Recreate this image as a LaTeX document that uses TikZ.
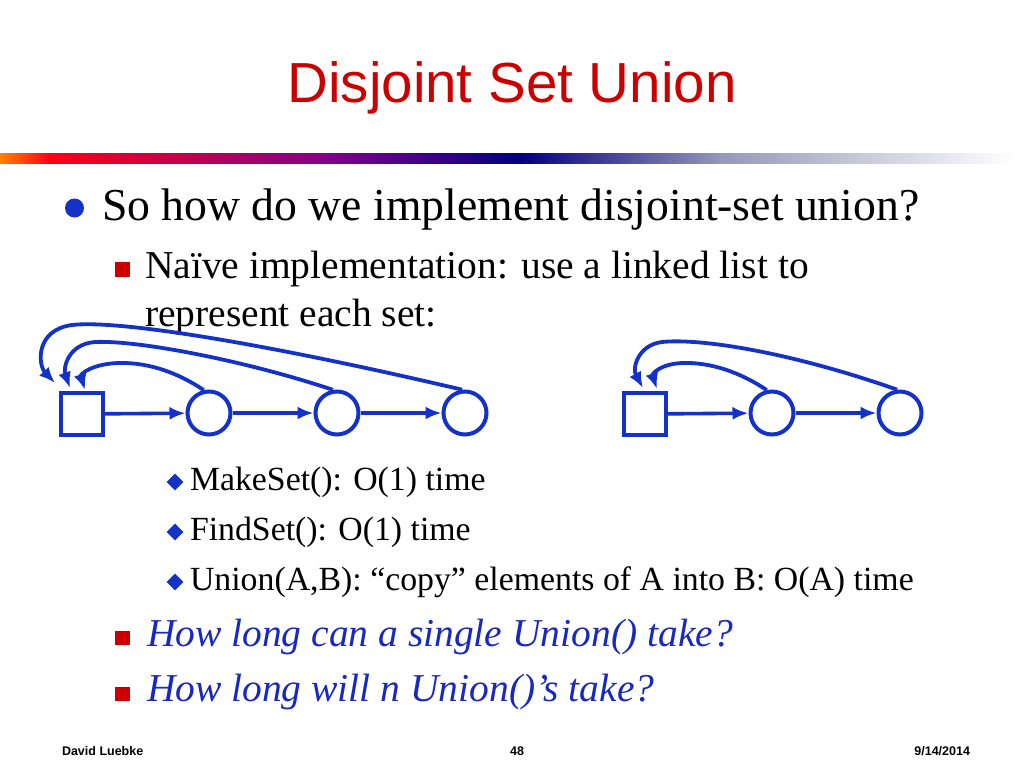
\documentclass[tikz,border=0pt]{standalone}
\usepackage{fontspec}
\setmainfont{Liberation Serif}
\newfontfamily\titlefont{Liberation Sans}
\newfontfamily\footfont{Liberation Sans}
\usetikzlibrary{arrows.meta,shapes.geometric}
\definecolor{dblue}{RGB}{20,50,200}
\definecolor{tblue}{RGB}{25,40,190}
\definecolor{tred}{RGB}{204,0,0}
\definecolor{bred}{RGB}{204,0,0}
\begin{document}
\begin{tikzpicture}[x=1pt,y=-1pt,
  txt/.style={anchor=base west,inner sep=0pt,outer sep=0pt},
  elem/.style={draw=dblue,line width=4pt,circle,minimum size=43pt,inner sep=0pt},
  head/.style={draw=dblue,line width=4pt,rectangle,minimum size=42pt,inner sep=0pt},
  link/.style={draw=dblue,line width=3.6pt,-{Latex[length=16pt,width=13pt]}},
  back/.style={draw=dblue,line width=3.8pt,-{Latex[length=16pt,width=13pt]}},
  sqbul/.style={fill=bred,draw=none,minimum size=14.5pt,inner sep=0pt,rectangle},
  dmbul/.style={fill=dblue,draw=none,diamond,minimum width=17pt,minimum height=17pt,inner sep=0pt}]
\useasboundingbox (0,0) rectangle (1024,768);
\fill[white] (0,0) rectangle (1024,768);
% title
\node[txt,font=\titlefont\fontsize{56.5}{60}\selectfont,text=tred,anchor=base] (title) at (512,102.5) {Disjoint Set Union};
% gradient bar
\shade[left color={rgb,255:red,255;green,130;blue,0},right color={rgb,255:red,250;green,0;blue,20}] (0,153) rectangle (50,163);
\shade[left color={rgb,255:red,250;green,0;blue,20},right color={rgb,255:red,130;green,0;blue,140}] (49.5,153) rectangle (330,163);
\shade[left color={rgb,255:red,130;green,0;blue,140},right color={rgb,255:red,0;green,0;blue,128}] (329.5,153) rectangle (520,163);
\shade[left color={rgb,255:red,0;green,0;blue,128},right color={rgb,255:red,150;green,150;blue,185}] (519.5,153) rectangle (720,163);
\shade[left color={rgb,255:red,150;green,150;blue,185},right color=white] (719.5,153) rectangle (1015,163);
% level 1
\fill[dblue] (74.5,208) circle (9.5);
\node[txt,font=\fontsize{45.7}{48}\selectfont] (l1) at (102,220) {So how do we implement disjoint-set union?};
% level 2
\node[sqbul] (b2) at (122.5,269.5) {};
\node[txt,font=\fontsize{39.5}{44}\selectfont] (l2a) at (145,278) {Naïve implementation: use a linked list to};
\node[txt,font=\fontsize{39.5}{44}\selectfont] (l2b) at (145,326) {represent each set:};
% left list
\node[head] (sq) at (81.5,414) {};
\node[elem] (a1) at (209,413) {};
\node[elem] (a2) at (337,413) {};
\node[elem] (a3) at (465,413) {};
\draw[link] (sq) -- (a1);
\draw[link] (a1) -- (a2);
\draw[link] (a2) -- (a3);
\coordinate (e1) at (85,390);
\coordinate (e2) at (70,388);
\coordinate (e3) at (55,383);
\draw[back] (a1.103) .. controls (180,374) and (150,362) .. (118,363) .. controls (92,364) and (80,374) .. (e1);
\draw[back] (a2.100) .. controls (250,362) and (140,340) .. (95,342) .. controls (68,344) and (63,368) .. (e2);
\draw[back] (a3.97) .. controls (250,340) and (115,320) .. (72,325) .. controls (35,330) and (38,365) .. (e3);
% right list
\node[head] (sq2) at (644.5,414) {};
\node[elem] (b1) at (772,413) {};
\node[elem] (bb2) at (900,413) {};
\draw[link] (sq2) -- (b1);
\draw[link] (b1) -- (bb2);
\coordinate (f1) at (657,389);
\coordinate (f2) at (643,388);
\draw[back] (b1.103) .. controls (740,372) and (710,362) .. (682,363) .. controls (660,364) and (652,374) .. (f1);
\draw[back] (bb2.97) .. controls (790,352) and (700,338) .. (662,342) .. controls (638,345) and (632,368) .. (f2);
% level 3
\node[dmbul] (d1) at (175,482) {};
\node[txt,font=\fontsize{33.8}{36}\selectfont] (l3a) at (190,490) {MakeSet(): O(1) time};
\node[dmbul] (d2) at (175,532) {};
\node[txt,font=\fontsize{33.8}{36}\selectfont] (l3b) at (190,540) {FindSet(): O(1) time};
\node[dmbul] (d3) at (175,582) {};
\node[txt,font=\fontsize{33.8}{36}\selectfont] (l3c) at (190,590) {Union(A,B): “copy” elements of A into B: O(A) time};
% italic questions
\node[sqbul] (q1b) at (122.5,638) {};
\node[txt,font=\itshape\fontsize{39.5}{44}\selectfont,text=tblue] (q1) at (147,646) {How long can a single Union() take?};
\node[sqbul] (q2b) at (122.5,694) {};
\node[txt,font=\itshape\fontsize{39.5}{44}\selectfont,text=tblue] (q2) at (147,701) {How long will n Union()’s take?};
% footer
\node[txt,font=\footfont\bfseries\fontsize{12.5}{14}\selectfont] (f-l) at (62,755) {David Luebke};
\node[txt,anchor=base,font=\footfont\bfseries\fontsize{12.5}{14}\selectfont] (f-c) at (517,755) {48};
\node[txt,anchor=base east,font=\footfont\bfseries\fontsize{12.5}{14}\selectfont] (f-r) at (970,755) {9/14/2014};
\end{tikzpicture}
\end{document}
